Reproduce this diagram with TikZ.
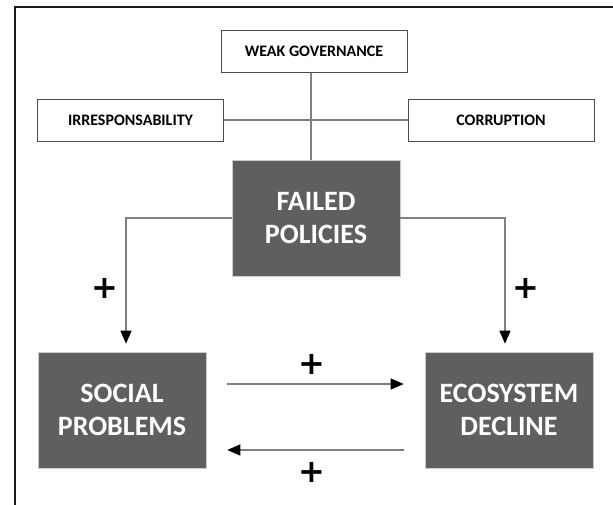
\documentclass[tikz,border=0pt]{standalone}
\usepackage{fontspec}
\setmainfont{Carlito}
\newfontfamily\plusfont{DejaVu Sans}
\usetikzlibrary{positioning,arrows.meta}

\definecolor{boxgray}{HTML}{5F5F5F}
\definecolor{linegray}{HTML}{808080}

\begin{document}
\begin{tikzpicture}[x=1pt,y=-1pt,
  smallbox/.style={
    rectangle,
    draw=black!70,
    fill=white,
    line width=0.8pt,
    minimum width=186pt,
    minimum height=42pt,
    inner sep=0pt,
    font=\fontsize{16}{18}\bfseries\selectfont,
  },
  bigbox/.style={
    rectangle,
    fill=boxgray,
    draw=black!20,
    line width=0.6pt,
    minimum width=168pt,
    minimum height=116pt,
    inner sep=0pt,
    align=center,
    text=white,
    font=\fontsize{28}{33}\bfseries\selectfont,
  },
  plussign/.style={
    inner sep=0pt,
    font=\plusfont\fontsize{32}{32}\bfseries\selectfont,
  },
  link/.style={draw=linegray,line width=1.3pt},
  flow/.style={link,-{Triangle[width=11pt,length=13pt,fill=black,color=black]}},
  ]
\useasboundingbox (0,0) rectangle (613,504);
\clip (0,0) rectangle (613,504);
\draw[black!90,line width=2.2pt] (14.7,6.7) rectangle (660,560);

\node[smallbox] (governance) at (314,51.5) {WEAK GOVERNANCE};
\node[smallbox] (irresp) at (130.5,120) {IRRESPONSABILITY};
\node[smallbox] (corruption) at (501,120) {CORRUPTION};
\node[bigbox] (failed) at (316,218) {FAILED\\POLICIES};
\node[bigbox] (social) at (122,410) {SOCIAL\\PROBLEMS};
\node[bigbox] (ecosystem) at (509,410) {ECOSYSTEM\\DECLINE};

\node[plussign] (plusA) at (105,288) {+};
\node[plussign] (plusB) at (526,288) {+};
\node[plussign] (plusC) at (312,364) {+};
\node[plussign] (plusD) at (312,472) {+};

\draw[link] ([xshift=-3pt]governance.south) -- ([xshift=-3pt]governance.south |- failed.north);
\draw[link] (irresp.east) -- (corruption.west);
\path[flow] (failed.west) -| ([xshift=4pt,yshift=8pt]social.north);
\path[flow] (failed.east) -| ([xshift=-4pt,yshift=8pt]ecosystem.north);
\path[flow] ([xshift=21pt,yshift=26pt]social.east) -- ([xshift=-21pt,yshift=26pt]ecosystem.west);
\path[flow] ([xshift=-21pt,yshift=-40pt]ecosystem.west) -- ([xshift=21pt,yshift=-40pt]social.east);
\end{tikzpicture}
\end{document}
